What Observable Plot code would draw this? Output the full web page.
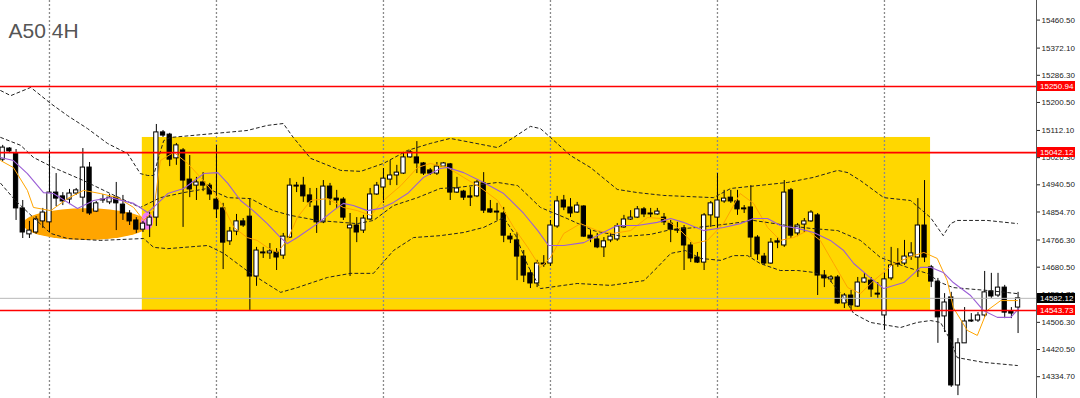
<!DOCTYPE html>
<html><head><meta charset="utf-8">
<script src="https://cdn.jsdelivr.net/npm/d3@7"></script>
<script src="https://cdn.jsdelivr.net/npm/@observablehq/plot@0.6"></script>
<style>
html,body{margin:0;padding:0;background:#fff;overflow:hidden;}
#chart svg{display:block;}
</style></head><body><div id="chart"></div>
<script>
const chartTitle = "A50 4H";

// OHLC of 153 four-hour bars (bar index = position)
const openArr = [15020,15055,15039,14866,14784,14790,14825,14822,14916,14904,
14894,14913,14900,14995,14856,14894,14885,14900,14878,14850,
14828,14799,14812,14837,15106,15099,15024,15049,14957,14938,
14948,14938,14894,14866,14762,14793,14825,14840,14651,14727,
14724,14727,14717,14774,14938,14938,14907,14872,14822,14935,
14897,14894,14803,14812,14796,14831,14910,14932,14957,14970,
14976,15027,15027,15008,14986,14976,14998,15005,14916,14919,
14904,14904,14945,14863,14856,14850,14777,14765,14714,14661,
14629,14692,14692,14809,14891,14869,14853,14872,14780,14768,
14743,14765,14768,14806,14831,14837,14863,14850,14847,14837,
14818,14799,14803,14749,14711,14695,14844,14837,14888,14900,
14888,14866,14869,14774,14714,14692,14762,14749,14923,14787,
14815,14825,14844,14654,14642,14648,14566,14591,14556,14632,
14638,14597,14528,14645,14692,14692,14714,14711,14812,14680,
14635,14525,14585,14307,14440,14512,14512,14528,14604,14591,
14616,14541,14553];
const highArr = [15065,15058,15052,14891,14825,14840,14866,15049,14976,14916,
14926,14929,15055,15011,14888,14910,14910,14948,14907,14859,
14837,14825,14853,15131,15112,15103,15071,15055,15033,14964,
14979,14945,15065,14882,14806,14847,14834,14897,14743,14743,
14755,14739,14787,14960,14948,14964,14929,14929,14954,14945,
14923,14900,14850,14837,14844,14929,14948,14992,15017,15002,
15043,15049,15077,15011,14992,15011,15011,15008,14964,14923,
14932,14954,14979,14891,14882,14869,14787,14790,14733,14670,
14702,14717,14828,14904,14907,14897,14885,14875,14796,14787,
14774,14787,14818,14844,14859,14872,14869,14866,14866,14850,
14828,14822,14812,14758,14727,14850,14888,14976,14923,14923,
14923,14875,14938,14780,14724,14771,14774,14954,14929,14818,
14834,14859,14850,14670,14654,14654,14597,14607,14648,14661,
14648,14632,14661,14743,14739,14765,14758,14897,14954,14686,
14645,14597,14601,14455,14553,14534,14537,14667,14661,14661,
14623,14553,14601];
const lowArr = [15014,15039,14828,14771,14771,14784,14803,14790,14872,14875,
14878,14907,14853,14844,14853,14882,14878,14796,14828,14812,
14787,14790,14774,14809,15090,14998,15002,14806,14900,14891,
14919,14891,14834,14673,14749,14780,14806,14544,14620,14708,
14705,14670,14705,14771,14916,14885,14869,14787,14818,14875,
14866,14828,14651,14758,14787,14828,14907,14882,14938,14938,
14973,15024,14976,14970,14970,14970,14995,14891,14913,14891,
14872,14900,14850,14850,14828,14758,14755,14638,14632,14613,
14616,14680,14683,14803,14859,14837,14850,14774,14758,14739,
14711,14758,14762,14803,14828,14834,14837,14837,14844,14812,
14758,14787,14670,14695,14692,14670,14806,14803,14882,14882,
14844,14850,14711,14702,14686,14689,14739,14743,14771,14777,
14790,14822,14591,14616,14632,14563,14550,14541,14553,14629,
14585,14582,14481,14638,14680,14686,14702,14648,14695,14616,
14440,14474,14301,14275,14440,14506,14506,14522,14582,14585,
14518,14518,14471];
const closeArr = [15058,15046,14866,14790,14796,14831,14853,14916,14897,14888,
14913,14923,14995,14850,14882,14891,14900,14882,14850,14825,
14799,14818,14837,15106,15096,15020,15065,14954,14926,14948,
14938,14910,14863,14758,14793,14825,14812,14651,14733,14724,
14730,14711,14777,14938,14935,14904,14885,14822,14935,14897,
14891,14837,14812,14790,14834,14910,14938,14960,14970,14979,
15027,15043,15008,14976,14976,14998,15008,14916,14929,14900,
14900,14948,14859,14853,14853,14780,14768,14714,14654,14629,
14692,14689,14812,14888,14869,14850,14875,14777,14771,14743,
14762,14777,14809,14831,14837,14863,14847,14847,14856,14822,
14799,14796,14749,14708,14695,14844,14882,14891,14897,14888,
14863,14863,14774,14721,14692,14758,14758,14916,14780,14812,
14825,14853,14654,14645,14648,14566,14591,14560,14632,14645,
14610,14594,14642,14686,14689,14714,14724,14812,14711,14635,
14522,14569,14307,14440,14509,14509,14528,14601,14588,14616,
14537,14534,14582.12];

// indicator lines: [bar position, price]
const upperBand = [[-0.3,15238],[1.2,15222],[4.2,15248],[7.2,15197],[9.7,15159],[12.7,15118],[15.7,15071],[18.7,15039],[20.6,14976],[21.7,14970],[22.6,14970],[23.2,15017],[24.1,15080],[25.1,15090],[31.9,15103],[36.6,15112],[39.6,15128],[42.0,15134],[43.5,15090],[46.1,15024],[50.6,14986],[53.6,14983],[57.0,15008],[60.6,15049],[64.0,15071],[67.0,15087],[74.1,15058],[76.5,15090],[79.0,15125],[80.5,15118],[82.0,15090],[85.0,15033],[88.0,14995],[92.0,14926],[95.0,14916],[98.9,14907],[106.4,14900],[109.0,14929],[117.5,14948],[121.4,14964],[125.0,14986],[126.5,14979],[128.4,14954],[131.9,14900],[135.9,14891],[138.9,14837],[140.8,14780],[141.9,14818],[142.9,14828],[147.4,14828],[151.9,14818]];
const middleBand = [[-0.3,15090],[2.7,15065],[4.6,15027],[7.6,14995],[12.1,14954],[16.1,14913],[20.6,14869],[23.6,14900],[27.1,14916],[30.7,14929],[33.7,14900],[37.1,14897],[40.5,14859],[43.1,14844],[47.1,14828],[53.1,14818],[55.5,14828],[58.5,14875],[62.1,14900],[65.5,14929],[68.1,14932],[74.1,14948],[77.1,14938],[80.5,14869],[84.5,14834],[88.4,14796],[92.9,14777],[97.0,14784],[100.0,14799],[104.0,14806],[109.0,14818],[112.4,14828],[117.5,14812],[120.9,14803],[125.0,14796],[128.4,14765],[131.4,14711],[135.4,14680],[138.4,14661],[140.4,14632],[142.3,14616],[147.4,14607],[151.9,14597]];
const lowerBand = [[-0.3,14945],[1.9,14891],[4.6,14837],[7.2,14787],[9.7,14771],[14.6,14765],[21.1,14771],[22.6,14743],[24.7,14739],[30.7,14749],[33.1,14724],[37.1,14661],[41.6,14601],[44.1,14616],[48.6,14648],[52.1,14661],[55.5,14661],[58.5,14733],[61.5,14774],[65.5,14780],[69.0,14790],[72.0,14806],[75.0,14837],[76.8,14780],[78.6,14686],[80.5,14613],[86.0,14629],[91.0,14623],[96.0,14638],[98.0,14680],[100.0,14724],[102.2,14733],[104.5,14708],[107.5,14702],[109.4,14717],[111.5,14717],[113.4,14692],[116.4,14670],[119.0,14670],[121.4,14664],[123.5,14648],[125.9,14585],[127.4,14534],[129.9,14506],[134.4,14490],[136.9,14506],[138.9,14512],[140.4,14506],[141.9,14449],[142.9,14395],[146.8,14380],[151.9,14370]];
const slowMA = [[-0.3,15027],[1.6,15017],[3.7,14976],[6.1,14916],[7.6,14913],[11.2,14866],[13.6,14891],[16.1,14900],[19.6,14882],[21.7,14853],[23.2,14882],[24.7,14913],[27.1,14929],[30.1,14976],[32.2,14979],[33.7,14945],[35.6,14891],[37.5,14859],[39.6,14818],[41.6,14774],[42.6,14755],[44.1,14774],[47.1,14818],[49.5,14859],[51.0,14882],[52.5,14875],[54.6,14859],[56.6,14866],[58.5,14885],[60.6,14913],[63.0,14964],[65.5,14992],[66.6,14995],[69.0,14979],[72.0,14948],[75.0,14913],[78.0,14850],[80.1,14796],[81.7,14749],[84.0,14749],[87.0,14758],[89.9,14790],[92.0,14812],[95.0,14812],[98.0,14822],[100.0,14834],[101.9,14822],[104.9,14796],[107.9,14806],[110.4,14818],[112.4,14834],[114.5,14834],[116.4,14812],[119.0,14803],[121.4,14790],[123.9,14765],[125.9,14733],[127.4,14692],[129.5,14654],[131.9,14613],[134.9,14632],[137.4,14680],[138.9,14680],[140.8,14664],[142.3,14632],[144.9,14591],[146.8,14544],[148.9,14522],[150.9,14522],[152.1,14550]];
const fastMA = [[-0.3,15017],[1.6,14995],[3.7,14923],[4.6,14869],[7.2,14859],[9.7,14897],[12.1,14923],[14.6,14913],[17.2,14900],[19.6,14869],[21.1,14828],[22.6,14859],[23.6,15017],[25.6,15043],[27.7,15008],[29.6,14964],[31.6,14916],[33.1,14869],[34.6,14806],[36.6,14774],[38.1,14765],[39.6,14743],[41.1,14727],[42.6,14765],[44.1,14837],[46.1,14891],[48.6,14897],[51.0,14869],[53.1,14859],[55.1,14844],[57.0,14891],[59.6,14938],[62.1,14995],[64.0,15008],[66.6,14995],[69.0,14964],[71.5,14932],[74.1,14891],[76.5,14806],[78.6,14743],[80.5,14680],[82.0,14711],[84.0,14787],[86.5,14818],[89.0,14796],[91.4,14787],[94.0,14796],[96.5,14837],[98.9,14834],[101.0,14806],[103.4,14755],[105.5,14765],[107.9,14818],[110.4,14913],[112.4,14882],[114.5,14806],[116.4,14765],[118.4,14774],[120.5,14796],[122.4,14765],[124.4,14692],[126.5,14616],[128.4,14597],[130.4,14638],[133.4,14692],[136.4,14717],[137.9,14727],[139.9,14708],[141.4,14638],[142.3,14553],[144.4,14481],[145.9,14465],[147.4,14544],[149.4,14575],[151.9,14575]];

const yTicks = [15460.50,15372.10,15286.30,15200.50,15112.10,15026.30,14940.50,14854.70,14766.30,14680.50,14594.70,14506.30,14420.50,14334.70];
const redLevels = [15250.94, 15042.12, 14543.73];
const lastPrice = 14582.12;
const tagValues = [15250.94, 15042.12, 14582.12, 14543.73];
const tagColors = ["#ff0000", "#ff0000", "#000000", "#ff0000"];
const gridBars = [7, 32, 57, 82, 107, 132];
// highlighted range box
const zoneStart = 20.9, zoneEnd = 138.9, zoneTop = 15090, zoneBottom = 14543.73;
// ellipses: center bar, center price, radius in bars, radius in price
const ellipseOrange = {x: 12.5, y: 14815, rx: 9.4, ry: 50};
const ellipsePink = {x: 21.7, y: 14825, rx: 0.9, ry: 28};

const candles = openArr.map((o, i) => ({i, open: o, high: highArr[i], low: lowArr[i], close: closeArr[i]}));

const W = 1080, H = 398, MR = 44;
const xDomain = [-0.33, 154.76];
const yDomain = [14265.9, 15522.4];

function ellipseMark(e, fill) {
  return (index, scales, values, dims) => {
    const sx = (scales && scales.x) ? scales.x : d3.scaleLinear(xDomain, [0, W - MR]);
    const sy = (scales && scales.y) ? scales.y : d3.scaleLinear(yDomain, [H, 0]);
    const cx = sx(e.x), cy = sy(e.y);
    const rx = Math.abs(sx(e.x + e.rx) - cx), ry = Math.abs(sy(e.y + e.ry) - cy);
    const g = d3.create("svg:g");
    g.append("ellipse").attr("cx", cx).attr("cy", cy).attr("rx", rx).attr("ry", ry).attr("fill", fill);
    return g.node();
  };
}

function tagMark(index, scales, values, dims) {
  const sy = (scales && scales.y) ? scales.y : d3.scaleLinear(yDomain, [H, 0]);
  const x0 = W - MR + 1;
  const g = d3.create("svg:g");
  tagValues.forEach((v, k) => {
    const y = Math.round(sy(v));
    g.append("rect").attr("x", x0).attr("y", y - 5).attr("width", 38).attr("height", 10).attr("fill", tagColors[k]);
    g.append("text").attr("x", x0 + 3).attr("y", y + 3).attr("fill", "#fff")
      .attr("text-anchor", "start").style("text-anchor", "start")
      .attr("font-size", 8).attr("font-family", "Liberation Sans, Arial, sans-serif").text(v.toFixed(2));
  });
  return g.node();
}

const chart = Plot.plot({
  width: W, height: H,
  marginLeft: 0, marginRight: MR, marginTop: 0, marginBottom: 0,
  style: {fontFamily: "Liberation Sans, Arial, sans-serif", fontSize: "8px", color: "#222", background: "#fff", overflow: "visible"},
  x: {type: "linear", domain: xDomain, axis: null},
  y: {type: "linear", domain: yDomain, axis: "right", ticks: yTicks, tickFormat: d => d.toFixed(2), tickSize: 3, tickPadding: 2, label: null},
  marks: [
    Plot.rect([0], {x1: () => zoneStart, x2: () => zoneEnd, y1: () => zoneBottom, y2: () => zoneTop, fill: "#ffd700"}),
    Plot.ruleX(gridBars, {stroke: "#8a8a8a", strokeWidth: 1.3, strokeDasharray: "2,2"}),
    ellipseMark(ellipseOrange, "#ffa500"),
    ellipseMark(ellipsePink, "#f07cf0"),
    Plot.ruleX(candles, {x: "i", y1: "low", y2: "high", stroke: "#000", strokeWidth: 1}),
    Plot.rect(candles, {x1: d => d.i - 0.32, x2: d => d.i + 0.32,
      y1: d => Math.min(d.open, d.close), y2: d => Math.max(d.open, d.close),
      fill: d => d.close >= d.open ? "#fff" : "#000", stroke: "#000", strokeWidth: 1}),
    Plot.line(upperBand, {x: d => d[0], y: d => d[1], stroke: "#222", strokeWidth: 1, strokeDasharray: "3,3"}),
    Plot.line(middleBand, {x: d => d[0], y: d => d[1], stroke: "#222", strokeWidth: 1, strokeDasharray: "3,3"}),
    Plot.line(lowerBand, {x: d => d[0], y: d => d[1], stroke: "#222", strokeWidth: 1, strokeDasharray: "3,3"}),
    Plot.line(fastMA, {x: d => d[0], y: d => d[1], stroke: "#ffa500", strokeWidth: 1}),
    Plot.line(slowMA, {x: d => d[0], y: d => d[1], stroke: "#9b5fd6", strokeWidth: 1.1}),
    Plot.ruleY([lastPrice], {stroke: "#b8b8b8", strokeWidth: 1}),
    Plot.ruleY(redLevels, {stroke: "#ff0000", strokeWidth: 1.6}),
    Plot.ruleX([xDomain[1]], {stroke: "#555", strokeWidth: 1}),
    tagMark,
    Plot.text([chartTitle], {frameAnchor: "top-left", dx: 8, dy: 23, lineAnchor: "top", textAnchor: "start", fontSize: 21, fill: "#555"})
  ]
});
document.getElementById("chart").appendChild(chart);
</script>
</body></html>
